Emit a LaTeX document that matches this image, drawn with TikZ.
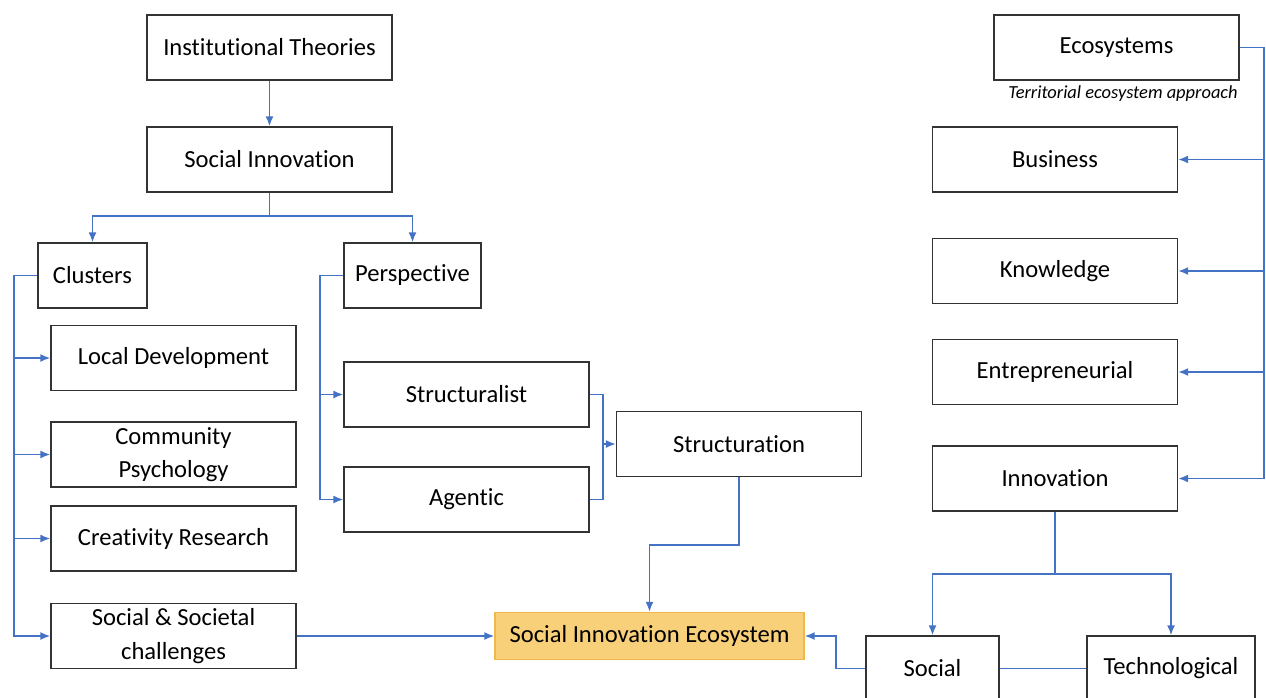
\documentclass[tikz,border=0pt]{standalone}
\usepackage{fontspec}
\setmainfont{Carlito}[Ligatures=NoCommon]
\usetikzlibrary{arrows.meta}

\definecolor{linkblue}{RGB}{68,114,196}
\definecolor{sieFill}{RGB}{248,208,122}
\definecolor{sieEdge}{RGB}{240,184,72}

\begin{document}
\begin{tikzpicture}[
    x=0.02cm, y=-0.02cm,
    >={Latex[length=2mm,width=1.6mm]},
    box/.style={draw=black!80, line width=0.8pt, fill=white, minimum width=4.9cm,
                minimum height=1.3cm, align=center, inner sep=2pt,
                font=\fontsize{14}{19}\selectfont},
    core/.style={box, draw=sieEdge, fill=sieFill, minimum width=6.18cm, minimum height=0.94cm},
    note/.style={font=\fontsize{10.5}{12}\selectfont\itshape},
    link/.style={draw=linkblue, line width=0.9pt}
]
  \useasboundingbox (0,0) rectangle (1266,697);

  % nodi a sinistra
  \node[box] (inst) at (269.5,47.5) {Institutional Theories};
  \node[box] (si) at (269.5,159.5) {Social Innovation};
  \node[box, minimum width=2.18cm] (clu) at (92.5,275.5) {Clusters};
  \node[box, minimum width=2.74cm] (per) at (412.5,275.5) {Perspective};
  \node[box] (loc) at (173.5,358) {Local Development};
  \node[box] (com) at (173.5,454.5) {Community\\Psychology};
  \node[box] (cre) at (173.5,538.5) {Creativity Research};
  \node[box] (chal) at (173.5,636) {Social \& Societal\\challenges};
  \node[box] (str) at (466.5,394.5) {Structuralist};
  \node[box] (age) at (466.5,499.5) {Agentic};
  \node[box] (stn) at (739,444) {Structuration};
  \node[core] (sie) at (649.5,636) {Social Innovation Ecosystem};

  % nodi a destra
  \node[box] (eco) at (1116.5,47.5) {Ecosystems};
  \node[note] (terr) at (1123,94) {Territorial ecosystem approach};
  \node[box] (bus) at (1055,159.5) {Business};
  \node[box] (kno) at (1055,271) {Knowledge};
  \node[box] (ent) at (1055,372) {Entrepreneurial};
  \node[box] (inn) at (1055,478.5) {Innovation};
  \node[box, minimum width=2.66cm] (soc) at (932.5,668.5) {Social};
  \node[box, minimum width=3.36cm] (tec) at (1171,668.5) {Technological};

  % Institutional Theories -> Social Innovation
  \draw[link,->] (inst) -- (si);

  % diramazione verso Clusters e Perspective
  \coordinate (sisplit) at (269.5,216);
  \draw[link] (si.south) -- (sisplit);
  \draw[link,->] (sisplit) -| (clu.north);
  \draw[link,->] (sisplit) -| (per.north);

  % bus dei Clusters
  \coordinate (cbus) at (14,275.5);
  \draw[link,->] (clu.west) -- (cbus) |- (chal.west);
  \foreach \n in {loc,com,cre}
    \draw[link,->] (cbus |- \n.west) -- (\n.west);

  % bus della Perspective
  \coordinate (pbus) at (320,275.5);
  \draw[link,->] (per.west) -- (pbus) |- (age.west);
  \draw[link,->] (pbus |- str.west) -- (str.west);

  % Structuralist + Agentic -> Structuration
  \coordinate (smerge) at (603,444);
  \draw[link] (str.east) -| (smerge) |- (age.east);
  \draw[link,->] (smerge) -- (stn.west);

  % Structuration -> ecosistema
  \coordinate (sbend) at (739,545);
  \draw[link,->] (stn.south) -- (sbend) -| (sie.north);

  % challenges -> ecosistema
  \draw[link,->] (chal.east) -- (sie.west);

  % Social -> ecosistema
  \coordinate (socbend) at (836,668.5);
  \draw[link,->] (soc.west) -- (socbend) |- (sie.east);
  \draw[link] (soc.east) -- (tec.west);

  % bus degli Ecosystems
  \coordinate (ebus) at (1264,47.5);
  \draw[link,->] (eco.east) -- (ebus) |- (inn.east);
  \foreach \n in {bus,kno,ent}
    \draw[link,->] (ebus |- \n.east) -- (\n.east);

  % Innovation -> Social / Technological
  \coordinate (isplit) at (1055,574);
  \draw[link] (inn.south) -- (isplit);
  \draw[link,->] (isplit) -| (soc.north);
  \draw[link,->] (isplit) -| (tec.north);

\end{tikzpicture}
\end{document}
